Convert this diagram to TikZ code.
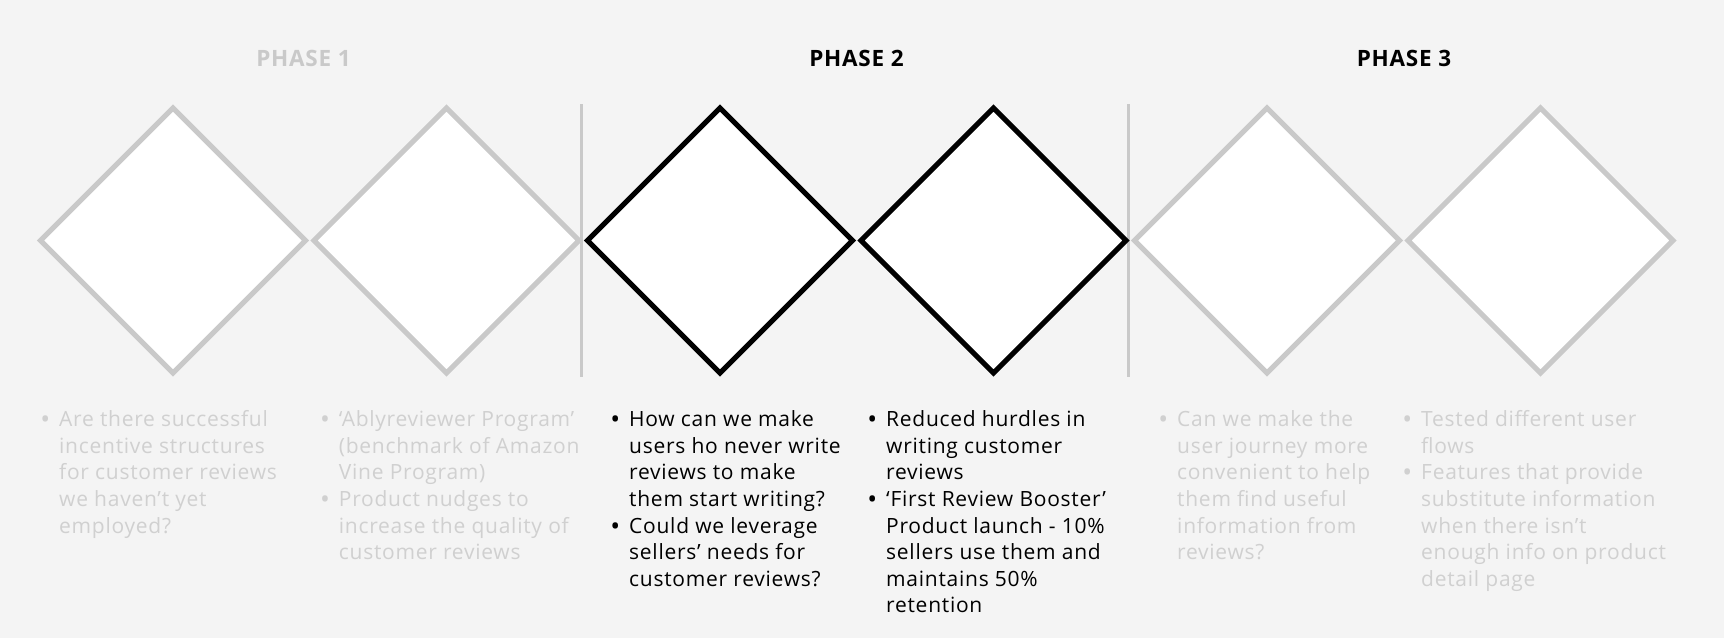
\documentclass[tikz,border=0pt]{standalone}
\usepackage{fontspec}
\setmainfont{Open Sans}[LetterSpace=3.5]
\usetikzlibrary{shapes.geometric}

\definecolor{bgc}{HTML}{F4F4F4}
\definecolor{muted}{HTML}{C9C9C9}
\definecolor{fadedtext}{HTML}{D0D0D0}
\definecolor{ink}{HTML}{000000}

% bullet hanging to the left of the text column
\newcommand{\bl}{\llap{\raisebox{-1.9pt}{\scalebox{1.25}{\textbullet}}\hspace{9pt}}}
% a column of bullet text, baseline of first line at the node's base
\newcommand{\colbody}[1]{\fontsize{21}{26.6}\selectfont\begin{tabular}[t]{@{}l@{}}#1\end{tabular}}

\begin{document}
\begin{tikzpicture}[x=1pt,y=-1pt,
  stage/.style={diamond, minimum width=265pt, minimum height=265pt,
    inner sep=0pt, outer sep=0pt, line width=5pt, fill=white},
  past/.style={stage, draw=muted},
  current/.style={stage, draw=ink},
  divider/.style={draw=muted, line width=3pt},
  heading/.style={anchor=base, inner sep=0pt, font=\fontsize{22.5}{26}\selectfont\bfseries},
  bodytext/.style={anchor=base west, inner sep=0pt}
]
\fill[bgc] (0,0) rectangle (1724,638);
\useasboundingbox (0,0) rectangle (1724,638);

% phase headings
\node[heading, text=muted] (h1) at (303.5,66) {PHASE 1};
\node[heading, text=ink]   (h2) at (856.5,66) {PHASE 2};
\node[heading, text=ink]   (h3) at (1404,66)  {PHASE 3};

% phase dividers
\coordinate (s1top) at (581,104);  \coordinate (s1bot) at (581,377);
\coordinate (s2top) at (1128,104); \coordinate (s2bot) at (1128,377);
\draw[divider] (s1top) -- (s1bot);
\draw[divider] (s2top) -- (s2bot);

% stage diamonds
\node[past]    (d1) at (173,240.5)   {};
\node[past]    (d2) at (446.5,240.5) {};
\node[current] (d3) at (720,240.5)   {};
\node[current] (d4) at (993.5,240.5) {};
\node[past]    (d5) at (1267,240.5)  {};
\node[past]    (d6) at (1540.5,240.5){};

% notes under each diamond
\node[bodytext, text=fadedtext] (t1) at (59,426.7) {\colbody{%
  \bl Are there successful\\ incentive structures\\ for customer reviews\\ we haven’t yet\\ employed?}};
\node[bodytext, text=fadedtext] (t2) at (338.7,426.7) {\colbody{%
  \bl ‘Ablyreviewer Program’\\ (benchmark of Amazon\\ Vine Program)\\
  \bl Product nudges to\\ increase the quality of\\ customer reviews}};
\node[bodytext, text=ink] (t3) at (629,426.7) {\colbody{%
  \bl How can we make\\ users ho never write\\ reviews to make\\ them start writing?\\
  \bl Could we leverage\\ sellers’ needs for\\ customer reviews?}};
\node[bodytext, text=ink] (t4) at (886,426.7) {\colbody{%
  \bl Reduced hurdles in\\ writing customer\\ reviews\\
  \bl ‘First Review Booster’\\ Product launch - 10\%\\ sellers use them and\\ maintains 50\%\\ retention}};
\node[bodytext, text=fadedtext] (t5) at (1177,426.7) {\colbody{%
  \bl Can we make the\\ user journey more\\ convenient to help\\ them find useful\\ information from\\ reviews?}};
\node[bodytext, text=fadedtext] (t6) at (1421,426.7) {\colbody{%
  \bl Tested different user\\ flows\\
  \bl Features that provide\\ substitute information\\ when there isn’t\\ enough info on product\\ detail page}};
\end{tikzpicture}
\end{document}
